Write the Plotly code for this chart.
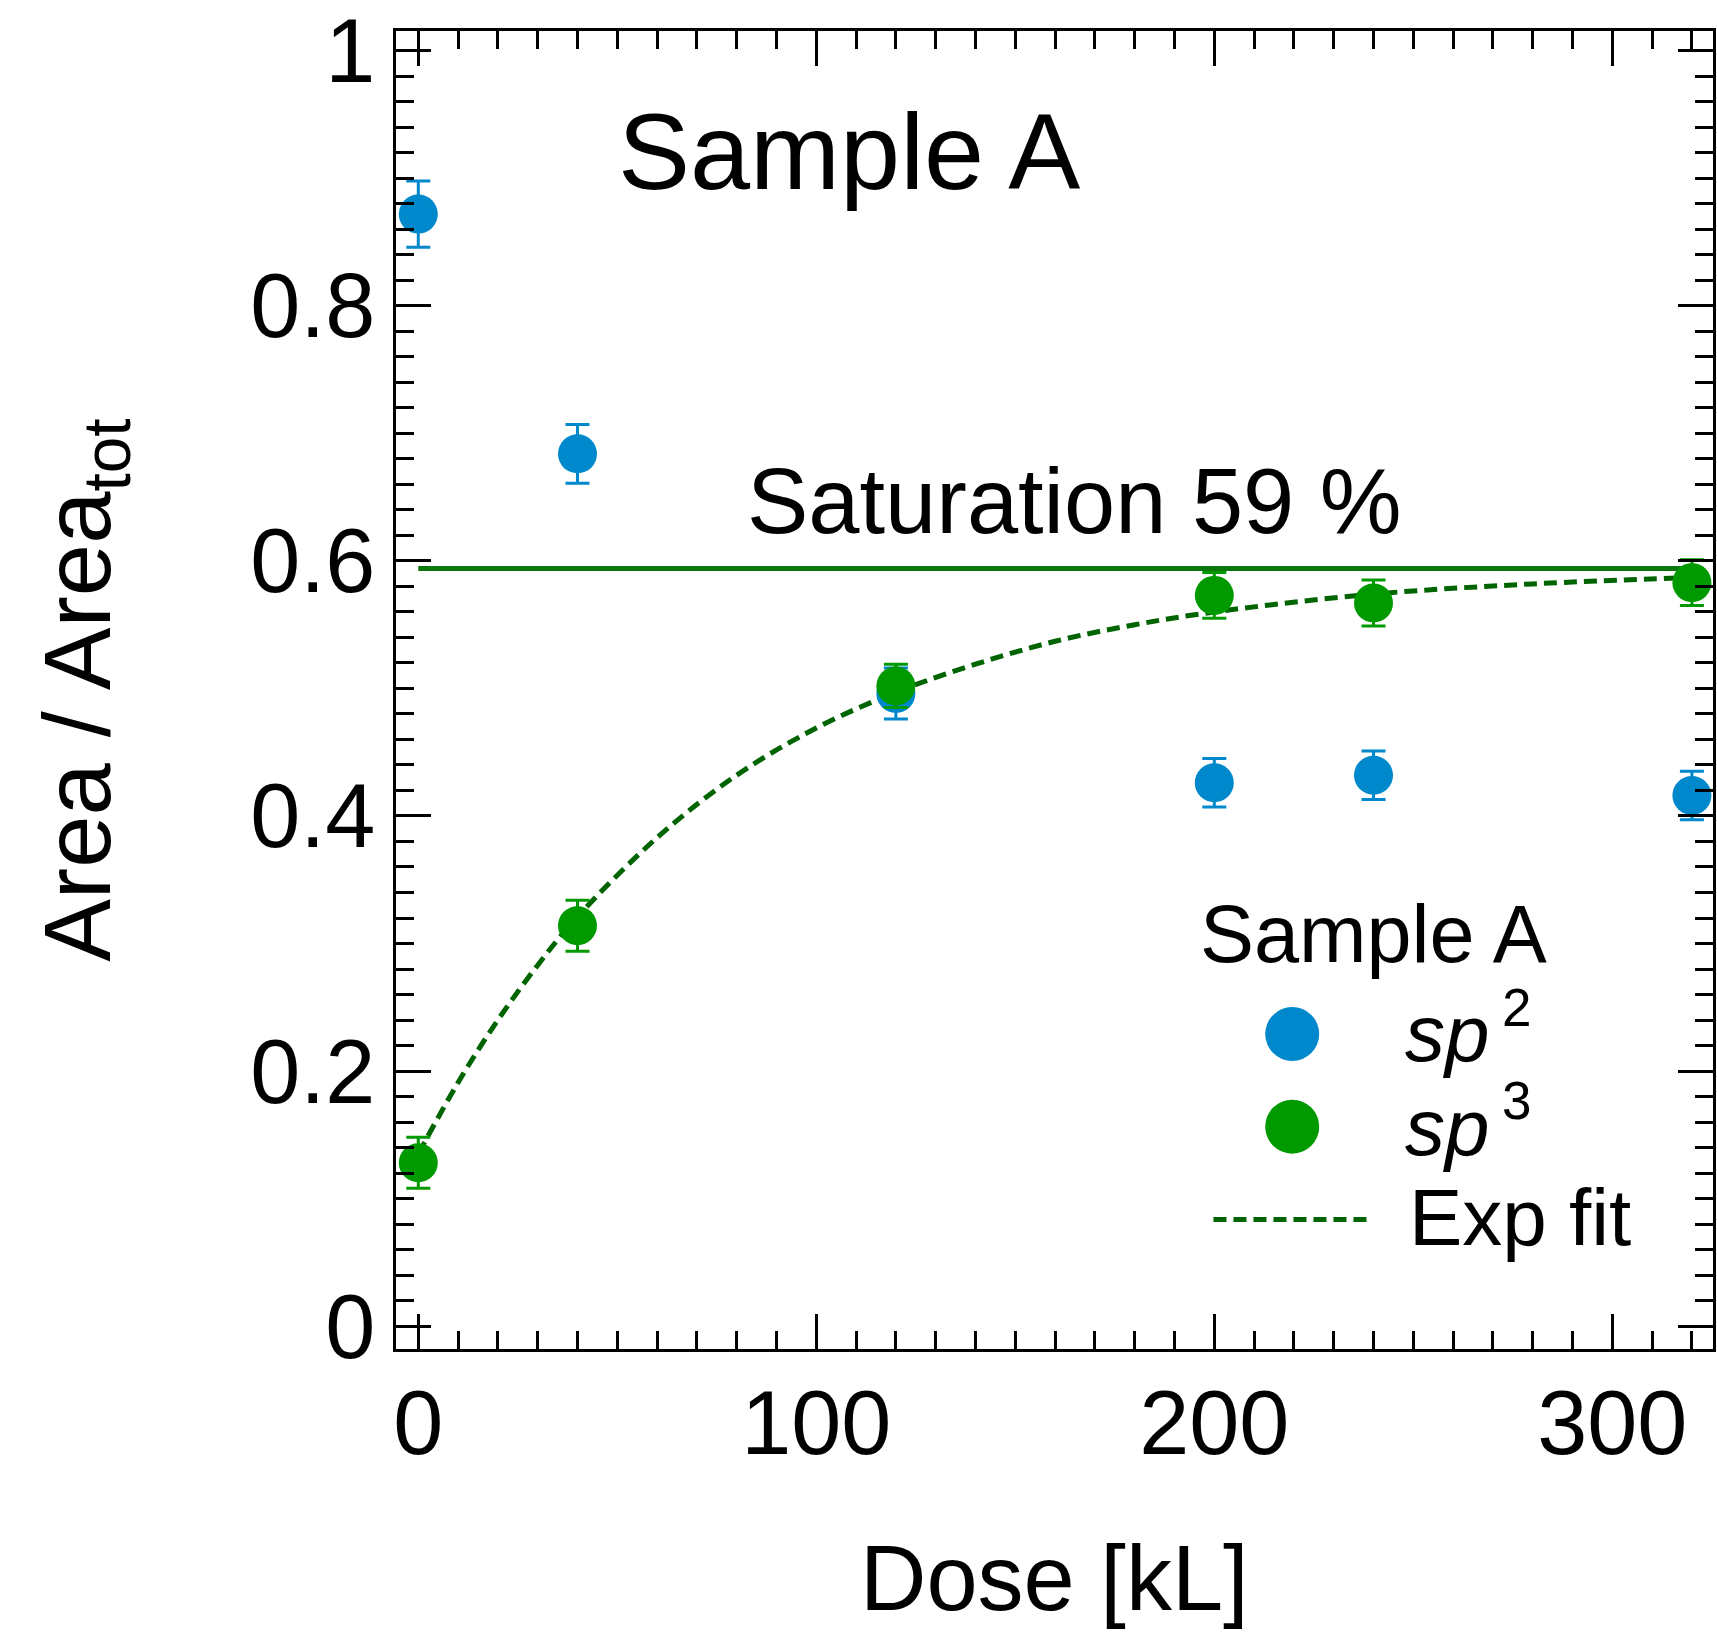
import plotly.graph_objects as go

# Measured fractions of the Raman band areas versus exposure dose (Sample A)
dose = [0, 40, 120, 200, 240, 320]
sp2_frac = [0.872, 0.684, 0.496, 0.426, 0.432, 0.416]
sp2_err = [0.026, 0.023, 0.020, 0.019, 0.019, 0.019]
sp3_frac = [0.128, 0.314, 0.502, 0.573, 0.567, 0.583]
sp3_err = [0.020, 0.020, 0.017, 0.018, 0.018, 0.018]

# Exponential saturation fit of the sp3 fraction
fit_dose = [0, 10, 20, 30, 40, 60, 80, 100, 120, 140, 160, 180, 200, 240, 280, 320]
fit_frac = [0.135, 0.191, 0.240, 0.283, 0.321, 0.383, 0.432, 0.469, 0.497,
            0.519, 0.537, 0.550, 0.560, 0.574, 0.582, 0.587]
saturation = 0.594

x_major_ticks = [0, 100, 200, 300]
y_major_ticks = [0, 0.2, 0.4, 0.6, 0.8, 1]

BLUE = "#0088cc"
GREEN = "#009900"
FIT_GREEN = "#006400"
SAT_GREEN = "#0b760b"
FONT = "Liberation Sans, Arial, Helvetica, sans-serif"
FIT_DASH = "13px,7px"

X_RANGE = [-5.6, 325.3]
Y_RANGE = [-0.018, 1.0156]

fig = go.Figure()

fig.add_trace(go.Scatter(
    x=[dose[0], dose[-1]], y=[saturation, saturation], mode="lines",
    line=dict(color=SAT_GREEN, width=5), showlegend=False, hoverinfo="skip"))

fig.add_trace(go.Scatter(
    x=fit_dose, y=fit_frac, mode="lines", name="Exp fit",
    line=dict(color=FIT_GREEN, width=5, dash=FIT_DASH, shape="spline"),
    showlegend=False))

fig.add_trace(go.Scatter(
    x=dose, y=sp2_frac, mode="markers", name="sp2",
    marker=dict(size=39, color=BLUE),
    error_y=dict(type="data", array=sp2_err, color=BLUE, thickness=3, width=12),
    showlegend=False))

fig.add_trace(go.Scatter(
    x=dose, y=sp3_frac, mode="markers", name="sp3",
    marker=dict(size=39, color=GREEN),
    error_y=dict(type="data", array=sp3_err, color=GREEN, thickness=3, width=12),
    showlegend=False))

axis_common = dict(
    showgrid=False, zeroline=False, ticks="inside", tickcolor="black",
    tickwidth=2.5, mirror="ticks",
)

fig.update_layout(
    width=1717, height=1632,
    margin=dict(l=396, r=1, t=27, b=283, pad=0),
    paper_bgcolor="white", plot_bgcolor="white",
    font=dict(family=FONT, color="black"),
    xaxis=dict(
        range=X_RANGE, tickmode="array", tickvals=x_major_ticks,
        ticktext=[str(v) for v in x_major_ticks], ticklen=35,
        showline=True, linecolor="black", linewidth=2.5,
        tickfont=dict(size=90, family=FONT, color="black"),
        ticklabelstandoff=-6, ticklabeloverflow="allow",
        minor=dict(tick0=0, dtick=10, ticks="inside", ticklen=18,
                   tickwidth=2.5, tickcolor="black", showgrid=False),
        **axis_common),
    yaxis=dict(
        range=Y_RANGE, tickmode="array", tickvals=y_major_ticks,
        ticktext=[f"{v:g}" for v in y_major_ticks], ticklen=35,
        showline=True, linecolor="black", linewidth=2.5,
        tickfont=dict(size=90, family=FONT, color="black"),
        ticklabelstandoff=0, ticklabeloverflow="allow",
        minor=dict(tick0=0, dtick=0.02, ticks="inside", ticklen=18,
                   tickwidth=2.5, tickcolor="black", showgrid=False),
        **axis_common),
    # intermediate-length ticks at the half-decades
    xaxis2=dict(
        overlaying="x", anchor="y", range=X_RANGE, tickmode="linear",
        tick0=50, dtick=100, ticklen=27, showline=False, showticklabels=False,
        **axis_common),
    yaxis2=dict(
        overlaying="y", anchor="x", range=Y_RANGE, tickmode="linear",
        tick0=0.1, dtick=0.2, ticklen=27, showline=False, showticklabels=False,
        **axis_common),
)


def text_note(text, x, y, size, xanchor="left", **kw):
    return dict(text=text, x=x, y=y, xref="paper", yref="paper",
                xanchor=xanchor, yanchor="middle", showarrow=False,
                font=dict(size=size, family=FONT, color="black"), **kw)


annotations = [
    text_note("Dose [kL]", 0.5, -0.1735, 92, xanchor="center"),
    text_note("Area / Area<sub>tot</sub>", -0.237, 0.5, 94, xanchor="center",
              textangle=-90),
    text_note("Sample A", 0.3437, 0.9085, 108, xanchor="center"),
    text_note(f"Saturation {saturation * 100:.0f} %", 0.5155, 0.6437, 92,
              xanchor="center"),
    # legend block
    text_note("Sample A", 0.742, 0.3145, 81, xanchor="center"),
    text_note("<i>sp</i>", 0.7646, 0.239, 80),
    text_note("2", 0.838, 0.259, 53),
    text_note("<i>sp</i>", 0.7646, 0.168, 80),
    text_note("3", 0.838, 0.1882, 53),
    text_note("Exp fit", 0.7676, 0.0998, 80),
]
fig.update_layout(annotations=annotations)

legend_x = 0.6805
shapes = [
    dict(type="circle", xref="paper", yref="paper", xsizemode="pixel", ysizemode="pixel",
         xanchor=legend_x, yanchor=0.239, x0=-27, x1=27, y0=-27, y1=27,
         fillcolor=BLUE, line=dict(width=0)),
    dict(type="circle", xref="paper", yref="paper", xsizemode="pixel", ysizemode="pixel",
         xanchor=legend_x, yanchor=0.1687, x0=-27, x1=27, y0=-27, y1=27,
         fillcolor=GREEN, line=dict(width=0)),
    dict(type="line", xref="paper", yref="paper", x0=0.6207, x1=0.7373,
         y0=0.0983, y1=0.0983, line=dict(color=FIT_GREEN, width=5, dash=FIT_DASH)),
]
fig.update_layout(shapes=shapes)

fig.write_html("out.html")
